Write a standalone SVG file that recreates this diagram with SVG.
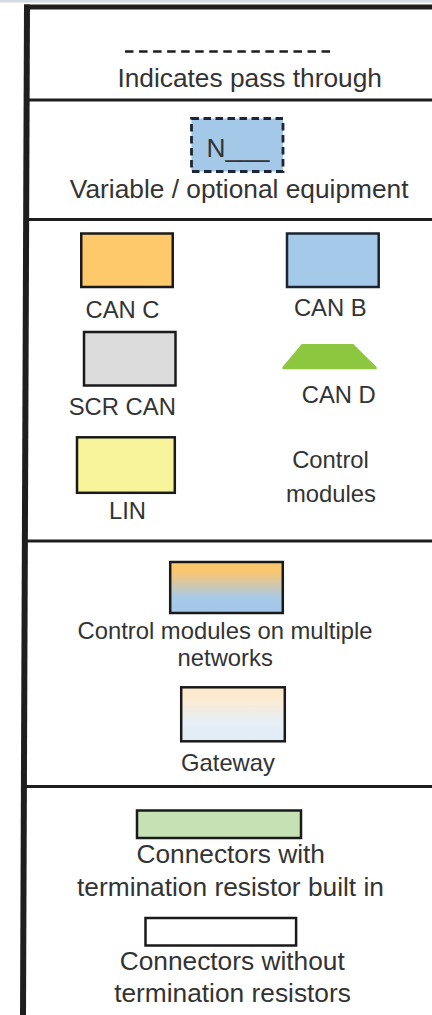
<svg xmlns="http://www.w3.org/2000/svg" width="432" height="1015" viewBox="0 0 432 1015">
<style>
text{font-family:"Liberation Sans",Arial,sans-serif;fill:#333333;text-anchor:middle}
.l{font-size:26.3px}
.s{font-size:23.8px}
.box{stroke:#1a1a1a;stroke-width:2.5}
.div{stroke:#1e1e1e;stroke-width:3}
</style>
<defs>
<linearGradient id="gMulti" x1="0" y1="0" x2="0" y2="1">
<stop offset="0" stop-color="#fcc86a"/>
<stop offset="0.2" stop-color="#f9c672"/>
<stop offset="0.7" stop-color="#a8c9e8"/>
<stop offset="1" stop-color="#a3c8ea"/>
</linearGradient>
<linearGradient id="gGate" x1="0" y1="0" x2="0" y2="1">
<stop offset="0" stop-color="#fde8c8"/>
<stop offset="0.25" stop-color="#fbebd4"/>
<stop offset="0.65" stop-color="#e6eef6"/>
<stop offset="1" stop-color="#e0ecf8"/>
</linearGradient>
</defs>
<rect width="432" height="1015" fill="#ffffff"/>
<rect x="0" y="0" width="432" height="2.5" fill="#d3dce6"/>
<g id="frame">
<rect x="24" y="4.5" width="408" height="5" fill="#1e1e1e"/>
<line x1="27" y1="4.5" x2="23" y2="1015" stroke="#1e1e1e" stroke-width="6"/>
<line class="div" x1="27" y1="100" x2="432" y2="100"/>
<line class="div" x1="27" y1="219.5" x2="432" y2="219.5"/>
<line class="div" x1="26" y1="541" x2="432" y2="541"/>
<line class="div" x1="25" y1="786.5" x2="432" y2="786.5"/>
</g>
<g id="connectors">
<line x1="125" y1="51.5" x2="330" y2="51.5" stroke="#1e1e1e" stroke-width="2.4" stroke-dasharray="8.5 5.54"/>
</g>
<g id="pass-through">
<text class="l" x="249.7" y="87.3">Indicates pass through</text>
</g>
<g id="optional">
<rect x="191.5" y="118.5" width="91.5" height="53" fill="#a3c8e8" stroke="#1c2636" stroke-width="2.8" stroke-dasharray="7.5 4.5"/>
<text class="l" x="206.5" y="157" style="text-anchor:start">N___</text>
<text class="l" x="239.2" y="198.3">Variable / optional equipment</text>
</g>
<g id="can-c">
<rect class="box" x="81.25" y="233.5" width="91.5" height="53.5" fill="#fdc96a"/>
<text class="s" x="122.5" y="318.3">CAN C</text>
</g>
<g id="can-b">
<rect x="287" y="233.5" width="91.7" height="53.5" fill="#a4c9e9" stroke="#1b2330" stroke-width="2.5"/>
<text class="s" x="330.3" y="315.7">CAN B</text>
</g>
<g id="scr-can">
<rect class="box" x="84" y="332" width="91.5" height="53.5" fill="#dcdcdc"/>
<text class="s" x="122.3" y="415">SCR CAN</text>
</g>
<g id="can-d">
<path d="M301.7,344 L353.3,344 L376.5,367 Q377.5,369.3 375,369.3 L284,369.3 Q281.5,369.3 282.5,367 Z" fill="#8dc63f"/>
<text class="s" x="338.8" y="403.3">CAN D</text>
</g>
<g id="lin">
<rect class="box" x="77" y="437.3" width="97.8" height="55.5" fill="#f8f49c"/>
<text class="s" x="127.5" y="519">LIN</text>
</g>
<g id="control-modules">
<text class="s" x="330.5" y="468.3">Control</text>
<text class="s" x="331" y="501.7">modules</text>
</g>
<g id="multi-network">
<rect class="box" x="170.2" y="562" width="112.6" height="51" fill="url(#gMulti)"/>
<text class="s" x="225" y="639.3">Control modules on multiple</text>
<text class="s" x="225.2" y="665.7">networks</text>
</g>
<g id="gateway">
<rect class="box" x="181.2" y="687.3" width="103.6" height="54" fill="url(#gGate)"/>
<text class="s" x="228" y="770.7">Gateway</text>
</g>
<g id="connector-terminated">
<rect class="box" x="137" y="810.5" width="164" height="27.5" fill="#c6e2b5"/>
<text class="l" x="230.7" y="862.7">Connectors with</text>
<text class="l" x="230.5" y="896">termination resistor built in</text>
</g>
<g id="connector-plain">
<rect class="box" x="145.5" y="918" width="150.6" height="27.5" fill="#ffffff"/>
<text class="l" x="232.2" y="970">Connectors without</text>
<text class="l" x="232.5" y="1001.7">termination resistors</text>
</g>
</svg>
